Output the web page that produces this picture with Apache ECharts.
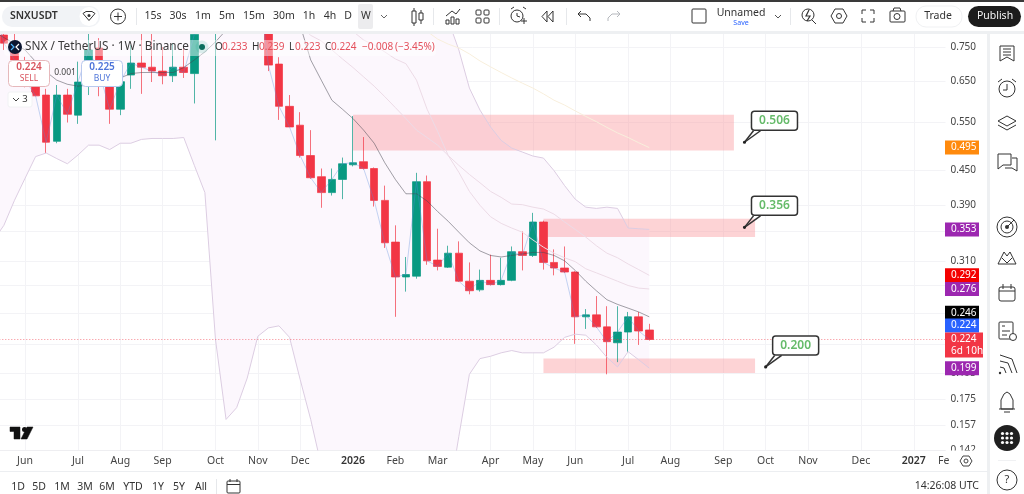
<!DOCTYPE html>
<html>
<head>
<meta charset="utf-8">
<title>SNXUSDT 1W</title>
<script src="https://cdn.jsdelivr.net/npm/echarts@6/dist/echarts.min.js"></script>
<style>
html,body{margin:0;padding:0;background:#fff;overflow:hidden}
#chart{width:1024px;height:494px}
</style>
</head>
<body>
<div id="chart"></div>
<script>
// Weekly bars, starting Monday 2025-05-12; the last 28 slots are empty future weeks.
const categories = [];
for (let i = 0; i < 91; i++) {
  categories.push(new Date(Date.UTC(2025, 4, 12 + 7 * i)).toISOString().slice(0, 10));
}

// Weekly OHLC of SNX / TetherUS
const opens = [.82,.788,.741,.70,.638,.615,.508,.615,.566,.660,.747,.64,.58,.668,.702,.690,.679,.666,.690,.672,.85,1.05,1.2,1.8,1.3,1.15,.80,
  .699,.587,.543,.479,.439,.411,.434,.461,.467,.454,.398,.335,.290,.291,.430,.311,.302,.320,.285,.275,.286,.281,.286,.322,.317,.364,.308,.301,.296,.246,.248,.236,.221,.231,.246,.233];
const closes = [.90,.762,.711,.655,.613,.506,.615,.568,.649,.741,.677,.58,.65,.702,.690,.679,.666,.690,.675,.79,1.05,1.2,1.8,1.3,1.15,1.0,.696,
  .587,.539,.479,.437,.411,.434,.463,.465,.454,.398,.334,.290,.293,.430,.310,.303,.320,.285,.274,.286,.281,.286,.322,.317,.364,.308,.301,.296,.246,.248,.236,.222,.231,.246,.232,.224];
const lows = [.75,.741,.689,.635,.612,.484,.504,.549,.546,.615,.612,.546,.566,.631,.618,.649,.643,.649,.660,.594,.82,.510,1.0,1.1,1.0,.86,.679,
  .555,.539,.475,.435,.386,.406,.400,.458,.452,.388,.327,.246,.273,.288,.305,.298,.301,.284,.270,.273,.280,.280,.285,.298,.315,.299,.292,.295,.220,.234,.235,.194,.204,.213,.219,.223];
const highs = [.95,.85,.80,.72,.682,.631,.641,.631,.706,.82,.778,.682,.68,.756,.82,.82,.750,.762,.756,.80,1.15,1.45,2.1,2.0,1.45,1.3,.81,
  .719,.615,.573,.532,.454,.454,.475,.564,.517,.456,.423,.359,.315,.446,.441,.354,.330,.336,.308,.299,.318,.314,.329,.350,.378,.366,.325,.329,.297,.254,.268,.257,.257,.251,.251,.239];

// Upper and lower envelope around price
const upperBand = [.95,.95,.96,.97,.97,.98,.98,.98,.98,.99,.99,.99,.98,.97,.97,.96,.96,.95,.95,.98,1.3,1.8,2.4,2.7,2.8,2.8,2.7,2.6,2.4,2.2,2.0,1.8,1.6,1.5,1.4,1.3,1.25,1.2,1.15,1.1,1.02,.96,.90,
  .838,.741,.633,.578,.539,.510,.494,.486,.478,.474,.450,.423,.400,.387,.385,.387,.385,.355,.354,.353];
const lowerBand = [.337,.359,.398,.436,.477,.484,.473,.463,.480,.500,.500,.491,.504,.504,.512,.514,.514,.514,.516,.460,.411,.224,.161,.169,.191,.227,.235,.237,.226,.190,.161,.133,.120,.115,.112,.110,.108,.105,.104,.103,.103,.105,.110,
  .115,.150,.194,.207,.209,.212,.214,.212,.212,.212,.217,.226,.229,.228,.219,.208,.200,.213,.206,.199];

// Moving averages
const maFast = [.80,.78,.76,.741,.706,.677,.654,.643,.638,.641,.643,.648,.660,.672,.675,.675,.675,.675,.689,.711,.735,.766,.804,.95,1.0,1.05,1.05,1.0,.84,
  .821,.711,.654,.602,.580,.558,.532,.504,.465,.434,.409,.409,.397,.380,.365,.349,.334,.323,.317,.315,.317,.319,.321,.321,.317,.310,.298,.285,.274,.264,.259,.255,.251,.246];
const maMid = [null,null,null,null,null,null,null,null,null,null,null,null,null,null,null,null,null,null,null,null,null,null,null,null,null,null,null,null,.86,
  .821,.787,.769,.741,.714,.689,.663,.638,.611,.584,.558,.532,.516,.500,.479,.460,.443,.428,.413,.403,.392,.391,.387,.384,.376,.364,.353,.342,.330,.320,.314,.306,.299,.292];
const maSlow = [null,null,null,null,null,null,null,null,null,null,null,null,null,null,null,null,null,null,null,null,null,null,null,null,null,null,null,null,null,null,null,null,null,.82,
  .80,.772,.756,.735,.714,.700,.654,.58,.529,.479,.447,.413,.390,.372,.362,.355,.349,.338,.328,.320,.314,.309,.300,.295,.290,.285,.280,.277,.276];
const maLong = [null,null,null,null,null,null,null,null,null,null,null,null,null,null,null,null,null,null,null,null,null,null,null,null,null,null,null,null,null,null,null,null,null,null,null,null,null,null,null,null,null,
  .80,.775,.759,.747,.729,.708,.691,.675,.660,.646,.633,.618,.602,.590,.576,.563,.551,.538,.526,.516,.505,.495];

// Shaded price zones
const zoneStart = ['2026-01-05','2026-05-11','2026-05-11'];
const zoneEnd = ['2026-09-14','2026-09-28','2026-09-28'];
const zoneTop = [.567,.369,.207];
const zoneBottom = [.489,.342,.195];

// Price callouts
const calloutWeeks = ['2026-09-21','2026-09-21','2026-10-05'];
const calloutPrices = [.506,.356,.200];

// Price axis
const gridPrices = [.75,.65,.55,.45,.39,.35,.31,.28,.25,.22,.195,.175,.157,.142];
const axisMin = .1419, axisMax = .7947;

// Month ticks
const tickDates = ['2025-06-02','2025-07-07','2025-08-04','2025-09-01','2025-10-06','2025-11-03','2025-12-01','2026-01-05','2026-02-02','2026-03-02','2026-04-06','2026-05-04','2026-06-01','2026-07-06','2026-08-03','2026-09-07','2026-10-05','2026-11-02','2026-12-07','2027-01-11'];
const tickTexts = ['Jun','Jul','Aug','Sep','Oct','Nov','Dec','2026','Feb','Mar','Apr','May','Jun','Jul','Aug','Sep','Oct','Nov','Dec','2027'];

// Tags on the price scale
const tagPrices = [.495,.353,.292,.276,.246,.224,.199,.224];
const tagColors = ['#ff8a0d','#9c27b0','#f40000','#9c27b0','#000000','#2962ff','#9c27b0','#f23645'];
const tagShift = [0,0,0,0,-4,-14,0,0];

const lastPrice = .224;
const UP = '#089981', DOWN = '#f23645';
const FONT = '"Noto Sans", "Open Sans", sans-serif';

const candleData = opens.map((o, i) => [o, closes[i], lows[i], highs[i]]);
const line = (data, color) => ({ type: 'line', data, symbol: 'none', silent: true, lineStyle: { color, width: 1 } });

const chart = echarts.init(document.getElementById('chart'), null, { renderer: 'canvas' });

chart.setOption({
  animation: false,
  backgroundColor: '#ffffff',
  textStyle: { fontFamily: FONT },
  grid: { left: -6.7, top: 33, width: 952.2, height: 417, containLabel: false, outerBoundsMode: 'none' },
  xAxis: {
    type: 'category', data: categories, boundaryGap: false,
    axisLine: { lineStyle: { color: '#eeeef1' } },
    axisTick: { show: false },
    splitLine: { show: true, interval: (i, v) => tickDates.includes(v), lineStyle: { color: '#f3f3f6' } },
    axisLabel: {
      interval: (i, v) => tickDates.includes(v),
      hideOverlap: false, margin: 6, fontSize: 10.5, color: '#444', fontFamily: FONT,
      formatter: (v) => {
        const t = tickTexts[tickDates.indexOf(v)];
        return /^\d+$/.test(t) ? '{year|' + t + '}' : t;
      },
      rich: { year: { fontWeight: 600, fontSize: 10.5, color: '#333', fontFamily: FONT } }
    }
  },
  yAxis: {
    type: 'log', position: 'right', min: axisMin, max: axisMax, logBase: 10,
    axisLine: { show: false },
    axisTick: { show: false, customValues: gridPrices },
    splitLine: { show: true, lineStyle: { color: '#f3f3f6' } },
    minorSplitLine: { show: false },
    axisLabel: {
      customValues: gridPrices, margin: 5, fontSize: 10, color: '#444', fontFamily: FONT,
      formatter: (v) => Number(v).toFixed(3)
    }
  },
  series: [
    { // envelope fill
      type: 'custom', coordinateSystem: 'cartesian2d', clip: true, silent: true,
      data: [[categories[0], lowerBand[0]]], encode: { x: 0, y: 1 },
      renderItem: (params, api) => {
        const pts = [];
        upperBand.forEach((v, i) => pts.push(api.coord([i, v])));
        for (let i = lowerBand.length - 1; i >= 0; i--) pts.push(api.coord([i, lowerBand[i]]));
        return { type: 'polygon', shape: { points: pts }, style: { fill: '#fcf7fd' } };
      }
    },
    { // price zones
      type: 'custom', coordinateSystem: 'cartesian2d', clip: true, silent: true,
      data: zoneStart.map((d, i) => [d, zoneTop[i]]), encode: { x: 0, y: 1 },
      renderItem: (params, api) => {
        const i = params.dataIndex;
        const a = api.coord([categories.indexOf(zoneStart[i]), zoneTop[i]]);
        const b = api.coord([categories.indexOf(zoneEnd[i]), zoneBottom[i]]);
        return { type: 'rect', shape: { x: a[0], y: a[1], width: b[0] - a[0], height: b[1] - a[1] }, style: { fill: 'rgba(250,150,155,0.42)' } };
      }
    },
    line(upperBand, '#dccde2'),
    line(lowerBand, '#dccde2'),
    line(maLong, '#f8efdc'),
    line(maMid, '#ecdbe6'),
    line(maSlow, '#ecdbe6'),
    line(maFast, 'rgba(70,70,80,0.5)'),
    line(closes, 'rgba(90,140,220,0.35)'),
    {
      type: 'candlestick', data: candleData, barWidth: 8, silent: true,
      itemStyle: { color: UP, color0: DOWN, borderColor: 'rgba(8,153,129,0.7)', borderColor0: 'rgba(242,54,69,0.7)', borderWidth: 1 },
      markLine: {
        silent: true, symbol: 'none', animation: false, label: { show: false }, precision: 4,
        lineStyle: { color: 'rgba(242,54,69,0.6)', type: [1, 2], width: 1 },
        data: [{ yAxis: lastPrice }]
      }
    },
    { // callouts with dot, pointer and value box
      type: 'custom', coordinateSystem: 'cartesian2d', clip: false, silent: true, z: 20,
      data: calloutWeeks.map((d, i) => [d, calloutPrices[i]]), encode: { x: 0, y: 1 },
      renderItem: (params, api) => {
        const i = params.dataIndex;
        const p = api.coord([categories.indexOf(calloutWeeks[i]), calloutPrices[i]]);
        const bx = p[0] + 7, by = p[1] - 31;
        return {
          type: 'group',
          children: [
            { type: 'polyline', shape: { points: [[p[0], p[1]], [p[0] + 9, p[1] - 11.5]] }, style: { stroke: '#333', lineWidth: 1.5, fill: null } },
            { type: 'polyline', shape: { points: [[p[0], p[1]], [p[0] + 16, p[1] - 11.5]] }, style: { stroke: '#333', lineWidth: 1.5, fill: null } },
            { type: 'circle', shape: { cx: p[0], cy: p[1], r: 1.6 }, style: { fill: '#222' } },
            { type: 'rect', shape: { x: bx, y: by, width: 46, height: 19, r: 3 }, style: { fill: '#fff', stroke: '#333', lineWidth: 1.5 } },
            { type: 'text', style: { text: calloutPrices[i].toFixed(3), x: bx + 23, y: by + 9.5, fill: '#66bb6a', font: '600 12px ' + FONT, textAlign: 'center', textVerticalAlign: 'middle' } }
          ]
        };
      }
    },
    { // price scale tags
      type: 'custom', coordinateSystem: 'cartesian2d', clip: false, silent: true, z: 30,
      data: tagPrices.map((v) => [categories[62], v]), encode: { x: 0, y: 1 },
      renderItem: (params, api) => {
        const i = params.dataIndex;
        const y = api.coord([62, tagPrices[i]])[1] + tagShift[i];
        const countdown = i === tagPrices.length - 1;
        const children = [
          { type: 'rect', shape: { x: 945, y: y - 7, width: countdown ? 38 : 34, height: countdown ? 25 : 14 }, style: { fill: tagColors[i] } },
          { type: 'text', style: { text: tagPrices[i].toFixed(3), x: 951, y: y, fill: '#fff', font: '10px ' + FONT, textVerticalAlign: 'middle' } }
        ];
        if (countdown) children.push({ type: 'text', style: { text: '6d 10h', x: 951, y: y + 12, fill: '#fff', font: '10px ' + FONT, textVerticalAlign: 'middle' } });
        return { type: 'group', children };
      }
    }
  ]
});

// Terminal interface around the plot
const Z = 100;
const ink = '#333';
const T = (text, x, y, o = {}) => ({ type: 'text', silent: true, z: o.z || Z + 2, style: { text, x, y, fill: o.fill || ink, font: (o.w ? o.w + ' ' : '') + (o.s || 10.5) + 'px ' + FONT, textAlign: o.a || 'center', textVerticalAlign: 'middle' } });
const R = (x, y, w, h, fill, stroke, r, z) => ({ type: 'rect', silent: true, z: z || Z, shape: { x, y, width: w, height: h, r: r || 0 }, style: { fill: fill || 'none', stroke: stroke || 'none', lineWidth: 1 } });
const C = (cx, cy, r, fill, stroke, z) => ({ type: 'circle', silent: true, z: z || Z + 1, shape: { cx, cy, r }, style: { fill: fill || 'none', stroke: stroke || 'none', lineWidth: 1 } });
const L = (pts, stroke, w, fill) => ({ type: fill ? 'polygon' : 'polyline', silent: true, z: Z + 1, shape: { points: pts }, style: { stroke: stroke || ink, lineWidth: w || 1, fill: fill || 'none' } });
const off = (cx, cy, pts) => pts.map((p) => [cx + p[0], cy + p[1]]);

const chrome = [
  // frame
  R(0, 0, 1024, 33, '#ffffff'),
  R(0, 0, 1024, 2, '#3a3a3a', null, 0, Z + 1),
  R(0, 31, 1024, 3, '#eef0f2', null, 0, Z + 1),
  R(988, 33, 36, 461, '#ffffff'),
  R(987, 33, 3, 461, '#eef0f2', null, 0, Z + 1),
  R(945.5, 450.5, 42, 21, '#ffffff'),
  R(0, 472, 988, 22, '#ffffff'),
  R(0, 471, 988, 1, '#eceef1', null, 0, Z + 1),

  // symbol
  R(2, 6, 98, 21, '#f1f3f6', null, 10, Z + 1),
  T('SNXUSDT', 10, 16.5, { a: 'left', w: 600, s: 10.5 }),
  C(89, 16.5, 9.5, '#ffffff'),
  L(off(89, 16.5, [[-6, -3], [-3, -5], [3, -5], [6, -3], [0, 4], [-6, -3]]), ink, 1),
  C(89, 15.5, 1.5, ink),
  C(118, 16.5, 7.5, null, ink),
  L([[114, 16.5], [122, 16.5]]), L([[118, 12.5], [118, 20.5]]),
  R(136, 8, 1, 17, '#e6e8eb', null, 0, Z + 1),

  // intervals
  R(358, 4, 15, 25, '#ececee', null, 2, Z + 1),
  T('15s', 153, 16.5), T('30s', 178, 16.5), T('1m', 203, 16.5), T('5m', 227, 16.5), T('15m', 254, 16.5),
  T('30m', 284, 16.5), T('1h', 309, 16.5), T('4h', 330, 16.5), T('D', 348, 16.5), T('W', 366, 16.5),
  L([[381, 15], [384, 18], [387, 15]], '#666'),

  // chart tools
  R(412, 11, 4, 12, null, ink), L([[414, 8], [414, 11]]), L([[414, 23], [414, 26]]),
  R(419, 13, 4, 7, null, ink), L([[421, 10], [421, 13]]), L([[421, 20], [421, 24]]),
  R(433, 8, 1, 17, '#e6e8eb', null, 0, Z + 1),
  L([[446, 16], [452, 11], [456, 14], [460, 9]]),
  R(446, 20, 3, 4, null, ink), R(451, 17, 3, 7, null, ink), R(456, 19, 3, 5, null, ink),
  R(476, 10, 5, 5, null, ink, 1), R(484, 10, 5, 5, null, ink, 1), R(476, 18, 5, 5, null, ink, 1), R(484, 18, 5, 5, null, ink, 1),
  R(499, 8, 1, 17, '#e6e8eb', null, 0, Z + 1),
  C(517, 16, 6, null, ink), L([[517, 13], [517, 16], [520, 17]]), L([[521, 21], [527, 21]]), L([[524, 18], [524, 24]]),
  L([[511, 9], [514, 7]]), L([[523, 7], [526, 9]]),
  L([[547, 11], [542, 16.5], [547, 22], [547, 11]]), L([[553, 11], [548, 16.5], [553, 22], [553, 11]]),
  R(566, 8, 1, 17, '#e6e8eb', null, 0, Z + 1),
  L([[581, 11], [578, 14], [581, 17]]), L([[578, 14], [586, 14], [590, 18], [590, 21]]),
  L([[617, 11], [620, 14], [617, 17]], '#b5b8bd'), L([[620, 14], [612, 14], [608, 18], [608, 21]], '#b5b8bd'),

  // layout
  R(692, 9, 14, 14, null, ink, 1, Z + 1),
  T('Unnamed', 741, 13.5, { s: 10.5 }), T('Save', 741, 23, { s: 7, fill: '#2962ff' }),
  L([[775, 15], [778, 18], [781, 15]], '#555'),
  R(790, 8, 1, 17, '#e6e8eb', null, 0, Z + 1),
  C(808, 15, 6, null, ink), L([[812, 20], [816, 24]]), L([[809, 10], [806, 16], [810, 16], [807, 21]], ink, 1.2),
  L(off(839, 16, [[-8, 0], [-4, -7], [4, -7], [8, 0], [4, 7], [-4, 7], [-8, 0]])), C(839, 16, 2.5, null, ink),
  L([[862, 14], [862, 10], [866, 10]]), L([[870, 10], [874, 10], [874, 14]]), L([[874, 18], [874, 22], [870, 22]]), L([[866, 22], [862, 22], [862, 18]]),
  R(890, 11, 15, 11, null, ink, 1, Z + 1), C(897, 16.5, 3, null, ink), L([[893, 11], [894, 8], [900, 8], [901, 11]]),
  R(916, 6, 46, 21, '#ffffff', '#f0f1f3', 10, Z + 1),
  T('Trade', 938, 16.5, { s: 10.5 }),
  R(968, 6, 53, 21, '#1c1c1c', null, 10.5, Z + 1),
  T('Publish', 995, 16.5, { s: 10.5, fill: '#f4f4f4' }),

  // legend strip
  R(4, 40, 432, 16, 'rgba(255,255,255,0.45)', null, 4, Z - 1),
  C(15, 47, 7, '#0b1630'),
  L([[11, 44], [14, 47], [11, 50]], '#4fb7ff', 1.2), L([[19, 44], [16, 47], [19, 50]], '#ffffff', 1.2),
  T('SNX / TetherUS · 1W · Binance', 25, 47, { a: 'left', s: 11.8, fill: '#3a3a3a' }),
  C(202, 47, 6.5, 'rgba(8,153,129,0.14)'), C(202, 47, 3, '#0b6e5d', null, Z + 2),
  T('O', 215, 47, { a: 'left', s: 10 }), T('0.233', 222, 47, { a: 'left', s: 10, fill: '#e4515c' }),
  T('H', 252, 47, { a: 'left', s: 10 }), T('0.239', 259, 47, { a: 'left', s: 10, fill: '#e4515c' }),
  T('L', 289, 47, { a: 'left', s: 10 }), T('0.223', 295, 47, { a: 'left', s: 10, fill: '#e4515c' }),
  T('C', 325, 47, { a: 'left', s: 10 }), T('0.224', 331, 47, { a: 'left', s: 10, fill: '#e4515c' }),
  T('−0.008', 362, 47, { a: 'left', s: 10, fill: '#e4515c' }), T('(−3.45%)', 395, 47, { a: 'left', s: 10, fill: '#e4515c' }),

  // order buttons
  R(8.5, 60.5, 41, 26, '#ffffff', '#e6b8bb', 4, Z + 1),
  T('0.224', 29, 67.5, { s: 10, w: 600, fill: '#d9545e' }), T('SELL', 29, 78.5, { s: 8.5, fill: '#d9545e' }),
  T('0.001', 65, 73, { s: 8.5, fill: '#444' }),
  R(81.5, 60.5, 41, 26, '#ffffff', '#b9c9ee', 4, Z + 1),
  T('0.225', 102, 67.5, { s: 10, w: 600, fill: '#4d74d9' }), T('BUY', 102, 78.5, { s: 8.5, fill: '#4d74d9' }),
  R(8, 92, 24, 15, '#ffffff', '#f1f2f4', 2, Z + 1),
  L([[13, 98], [16, 101], [19, 98]], '#444'), T('3', 25, 99.5, { s: 9.5 }),

  // watermark
  L([[10, 427], [20, 427], [20, 439], [14, 439], [14, 431.5], [10, 431.5]], '#111', 0.5, '#111'),
  C(24.5, 429.5, 2.5, '#111'),
  L([[27, 427], [33, 427], [27, 439], [21, 439]], '#111', 0.5, '#111'),

  // time axis tail, cut off by the scale corner
  T('Fe', 938, 461, { a: 'left', s: 10.5, fill: '#444' }),

  // range bar
  T('1D', 18, 487), T('5D', 39, 487), T('1M', 62, 487), T('3M', 85, 487), T('6M', 107, 487),
  T('YTD', 133, 487), T('1Y', 158, 487), T('5Y', 179, 487), T('All', 201, 487),
  R(216, 479, 1, 15, '#e6e8eb', null, 0, Z + 1),
  R(227, 481, 13, 12, null, ink, 1, Z + 1), L([[227, 484.5], [240, 484.5]]), L([[230, 479], [230, 482]]), L([[237, 479], [237, 482]]),
  T('14:26:08 UTC', 979, 486, { a: 'right', s: 10.5 }),
  L(off(966, 461, [[-6, 0], [-3, -5], [3, -5], [6, 0], [3, 5], [-3, 5], [-6, 0]]), '#444'), C(966, 461, 2, null, '#444', Z + 2),

  // side panel
  L([[1000, 46], [1014, 46], [1014, 61], [1007, 57], [1000, 61], [1000, 46]]), L([[1003, 49], [1011, 49]]), L([[1003, 52], [1011, 52]]), L([[1003, 55], [1011, 55]]),
  C(1007, 89, 8, null, ink), L([[1007, 84], [1007, 90], [1003, 90]]), L([[998, 82], [1002, 79]]), L([[1012, 79], [1016, 82]]),
  L(off(1007, 121, [[-9, 0], [0, -5], [9, 0], [0, 5], [-9, 0]])), L(off(1007, 121, [[-9, 4], [0, 9], [9, 4]])),
  L([[998, 154], [1011, 154], [1011, 165], [1003, 165], [998, 169], [998, 154]]), L([[1012, 158], [1017, 158], [1017, 171], [1012, 168], [1005, 168]]),
  C(1007, 227, 10, null, ink), C(1007, 227, 6, null, ink), C(1007, 227, 2, ink), L([[1007, 227], [1014, 220]]),
  L(off(1007, 258, [[-9, 6], [-3, -6], [0, -2], [3, -6], [9, 6], [-9, 6]])), L(off(1007, 258, [[-5, 0], [0, 5], [5, 0]])),
  R(999, 287, 16, 14, null, ink, 2, Z + 1), L([[999, 291], [1015, 291]]), L([[1003, 284], [1003, 289]]), L([[1011, 284], [1011, 289]]),
  R(999, 322, 14, 17, null, ink, 1, Z + 1), L([[1002, 326], [1005, 326]]), L([[1002, 331], [1010, 331]]), L([[1002, 335], [1007, 335]]), C(1013, 337, 3.5, '#ffffff', ink),
  C(1000, 373, 1.2, ink),
  L([[1000, 367], [1004, 368], [1006, 373]]), L([[1000, 361], [1008, 363], [1012, 373]]), L([[1000, 355], [1012, 359], [1017, 373]]),
  L([[1001, 409], [1001, 400], [1004, 394], [1007, 392], [1010, 394], [1013, 400], [1013, 409], [1001, 409]]), L([[999, 409], [1015, 409]]), L([[1004, 412], [1010, 412]]),
  C(1007, 438, 13, '#202020'),
  ...[-4.5, 0, 4.5].flatMap((dx) => [-4.5, 0, 4.5].map((dy) => C(1007 + dx, 438 + dy, 1.6, '#ffffff', null, Z + 2))),
  R(998, 460, 18, 1, '#f0f1f3', null, 0, Z + 1),
  C(1007, 480, 10, null, ink), T('?', 1007, 480, { s: 11 })
];

chart.setOption({ graphic: { elements: chrome } });
</script>
</body>
</html>
